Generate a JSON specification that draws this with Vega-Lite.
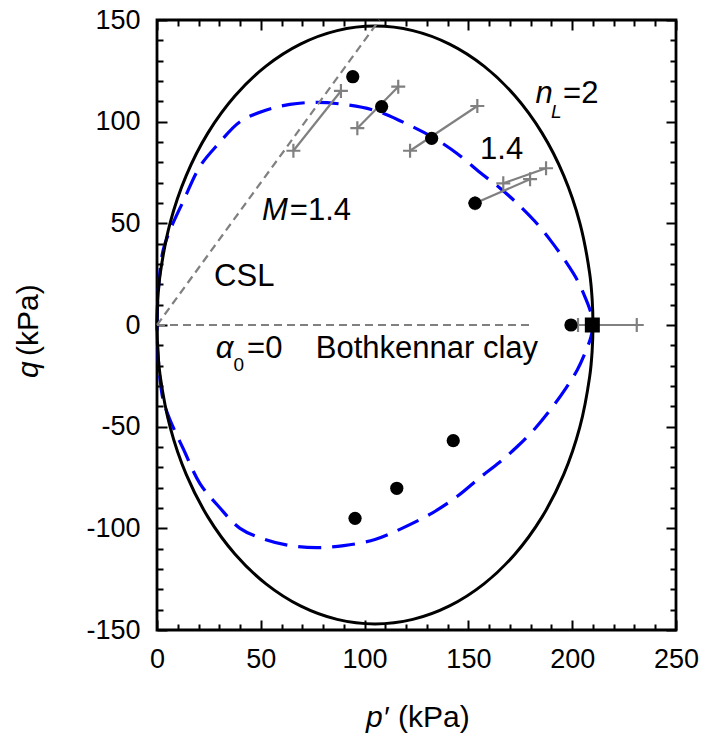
{
  "$schema": "https://vega.github.io/schema/vega-lite/v6.json",
  "width": 519,
  "height": 610,
  "autosize": {"type": "none"},
  "padding": {"left": 157, "top": 20, "right": 30, "bottom": 114},
  "background": "white",
  "config": {
    "font": "Liberation Sans",
    "view": {"stroke": "black", "strokeWidth": 2.8},
    "axis": {"grid": false, "domain": false, "labelColor": "black", "tickColor": "black", "labelFont": "Liberation Sans", "labelFontSize": 27, "tickWidth": 2, "labelFlush": false, "labelOverlap": false}
  },
  "resolve": {"axis": {"x": "independent", "y": "independent"}},
  "datasets": {
    "surfaceN14": [
      {"i": 0, "p": 0, "q": 0}, {"i": 1, "p": 0.4, "q": 13}, {"i": 2, "p": 1.3, "q": 25}, {"i": 3, "p": 3, "q": 37},
      {"i": 4, "p": 6, "q": 46}, {"i": 5, "p": 12.7, "q": 61}, {"i": 6, "p": 20.7, "q": 78}, {"i": 7, "p": 29.5, "q": 89},
      {"i": 8, "p": 40, "q": 100}, {"i": 9, "p": 52, "q": 105.5}, {"i": 10, "p": 64, "q": 108.5}, {"i": 11, "p": 77, "q": 109.5},
      {"i": 12, "p": 90, "q": 108.5}, {"i": 13, "p": 105, "q": 105.5}, {"i": 14, "p": 118, "q": 100}, {"i": 15, "p": 132.5, "q": 92.5},
      {"i": 16, "p": 145, "q": 84}, {"i": 17, "p": 155.6, "q": 75}, {"i": 18, "p": 165, "q": 67.5}, {"i": 19, "p": 173.3, "q": 60},
      {"i": 20, "p": 182, "q": 51}, {"i": 21, "p": 190, "q": 41}, {"i": 22, "p": 197, "q": 31}, {"i": 23, "p": 202.5, "q": 22},
      {"i": 24, "p": 206.5, "q": 13}, {"i": 25, "p": 209, "q": 6}, {"i": 26, "p": 210, "q": 0},
      {"i": 27, "p": 209, "q": -6}, {"i": 28, "p": 206.5, "q": -13}, {"i": 29, "p": 202.5, "q": -22}, {"i": 30, "p": 197, "q": -31},
      {"i": 31, "p": 190, "q": -41}, {"i": 32, "p": 182, "q": -51}, {"i": 33, "p": 173.3, "q": -60}, {"i": 34, "p": 165, "q": -67.5},
      {"i": 35, "p": 155.6, "q": -75}, {"i": 36, "p": 145, "q": -84}, {"i": 37, "p": 132.5, "q": -92.5}, {"i": 38, "p": 118, "q": -100},
      {"i": 39, "p": 105, "q": -105.5}, {"i": 40, "p": 90, "q": -108.5}, {"i": 41, "p": 77, "q": -109.5}, {"i": 42, "p": 64, "q": -108.5},
      {"i": 43, "p": 52, "q": -105.5}, {"i": 44, "p": 40, "q": -100}, {"i": 45, "p": 29.5, "q": -89}, {"i": 46, "p": 20.7, "q": -78},
      {"i": 47, "p": 12.7, "q": -61}, {"i": 48, "p": 6, "q": -46}, {"i": 49, "p": 3, "q": -37}, {"i": 50, "p": 1.3, "q": -25},
      {"i": 51, "p": 0.4, "q": -13}, {"i": 52, "p": 0, "q": 0}
    ],
    "surfaceN2": [
      {"i": 0, "p": 0, "q": 0}, {"i": 1, "p": 0.4, "q": 12.81}, {"i": 2, "p": 1.6, "q": 25.52}, {"i": 3, "p": 6.33, "q": 50.27},
      {"i": 4, "p": 14.07, "q": 73.5}, {"i": 5, "p": 24.57, "q": 94.49}, {"i": 6, "p": 37.51, "q": 112.6}, {"i": 7, "p": 52.5, "q": 127.31},
      {"i": 8, "p": 69.09, "q": 138.14}, {"i": 9, "p": 86.77, "q": 144.77}, {"i": 10, "p": 105, "q": 147}, {"i": 11, "p": 123.23, "q": 144.77},
      {"i": 12, "p": 140.91, "q": 138.14}, {"i": 13, "p": 157.5, "q": 127.31}, {"i": 14, "p": 172.49, "q": 112.6}, {"i": 15, "p": 185.43, "q": 94.49},
      {"i": 16, "p": 195.93, "q": 73.5}, {"i": 17, "p": 203.67, "q": 50.27}, {"i": 18, "p": 208.4, "q": 25.52}, {"i": 19, "p": 209.6, "q": 12.81},
      {"i": 20, "p": 210, "q": 0},
      {"i": 21, "p": 209.6, "q": -12.81}, {"i": 22, "p": 208.4, "q": -25.52}, {"i": 23, "p": 203.67, "q": -50.27}, {"i": 24, "p": 195.93, "q": -73.5},
      {"i": 25, "p": 185.43, "q": -94.49}, {"i": 26, "p": 172.49, "q": -112.6}, {"i": 27, "p": 157.5, "q": -127.31}, {"i": 28, "p": 140.91, "q": -138.14},
      {"i": 29, "p": 123.23, "q": -144.77}, {"i": 30, "p": 105, "q": -147}, {"i": 31, "p": 86.77, "q": -144.77}, {"i": 32, "p": 69.09, "q": -138.14},
      {"i": 33, "p": 52.5, "q": -127.31}, {"i": 34, "p": 37.51, "q": -112.6}, {"i": 35, "p": 24.57, "q": -94.49}, {"i": 36, "p": 14.07, "q": -73.5},
      {"i": 37, "p": 6.33, "q": -50.27}, {"i": 38, "p": 1.6, "q": -25.52}, {"i": 39, "p": 0.4, "q": -12.81}, {"i": 40, "p": 0, "q": 0}
    ],
    "csl": [{"p": 0, "q": 0}, {"p": 107.14, "q": 150}],
    "isoLine": [{"p": 0, "q": 0}, {"p": 180.5, "q": 0}],
    "paths": [
      {"seg": "a", "p": 65.7, "q": 85.7}, {"seg": "a", "p": 88.6, "q": 115.1},
      {"seg": "b", "p": 96.5, "q": 96.8}, {"seg": "b", "p": 116.2, "q": 117.2},
      {"seg": "c", "p": 121.9, "q": 85.7}, {"seg": "c", "p": 154.3, "q": 107.7},
      {"seg": "d", "p": 153.2, "q": 59.9}, {"seg": "d", "p": 179.7, "q": 71.7},
      {"seg": "e", "p": 166.8, "q": 69.7}, {"seg": "e", "p": 187.4, "q": 77.1},
      {"seg": "f", "p": 202.8, "q": 0}, {"seg": "f", "p": 231.1, "q": 0}
    ],
    "tests": [
      {"p": 94.3, "q": 122.1}, {"p": 108.2, "q": 107.4}, {"p": 132.3, "q": 91.8}, {"p": 153.2, "q": 59.9},
      {"p": 199.4, "q": 0}, {"p": 95.4, "q": -95.1}, {"p": 115.5, "q": -80.3}, {"p": 142.7, "q": -56.9}
    ],
    "consolidation": [{"p": 209.7, "q": 0}]
  },
  "layer": [
    {
      "data": {"name": "surfaceN14"},
      "mark": {"type": "line", "stroke": "#0000ff", "strokeWidth": 3.2, "strokeDash": [23, 11], "interpolate": "catmull-rom"},
      "encoding": {
        "x": {"field": "p", "type": "quantitative", "scale": {"domain": [0, 250], "nice": false, "zero": false},
              "axis": {"orient": "bottom", "values": [0, 50, 100, 150, 200, 250], "ticks": false, "labelPadding": 16, "title": null}},
        "y": {"field": "q", "type": "quantitative", "scale": {"domain": [-150, 150], "nice": false, "zero": false},
              "axis": {"orient": "left", "values": [-150, -100, -50, 0, 50, 100, 150], "ticks": false, "labelPadding": 17, "labelExpr": "'' + datum.value", "title": null}},
        "order": {"field": "i"}
      }
    },
    {
      "data": {"name": "surfaceN2"},
      "mark": {"type": "line", "stroke": "black", "strokeWidth": 3, "interpolate": "catmull-rom"},
      "encoding": {
        "x": {"field": "p", "type": "quantitative", "axis": {"orient": "bottom", "values": [0, 50, 100, 150, 200, 250], "labels": false, "tickSize": -10, "title": null}},
        "y": {"field": "q", "type": "quantitative", "axis": {"orient": "left", "values": [-150, -100, -50, 0, 50, 100, 150], "labels": false, "tickSize": -10, "title": null}},
        "order": {"field": "i"}
      }
    },
    {
      "data": {"name": "csl"},
      "mark": {"type": "line", "stroke": "#808080", "strokeWidth": 2.2, "strokeDash": [8, 5]},
      "encoding": {
        "x": {"field": "p", "type": "quantitative", "axis": {"orient": "top", "values": [0, 50, 100, 150, 200, 250], "labels": false, "tickSize": -10, "title": null}},
        "y": {"field": "q", "type": "quantitative", "axis": {"orient": "right", "values": [-150, -100, -50, 0, 50, 100, 150], "labels": false, "tickSize": -10, "title": null}}
      }
    },
    {
      "data": {"name": "isoLine"},
      "mark": {"type": "line", "stroke": "#808080", "strokeWidth": 2.2, "strokeDash": [8, 5]},
      "encoding": {
        "x": {"field": "p", "type": "quantitative", "axis": {"orient": "bottom", "values": [10, 20, 30, 40, 60, 70, 80, 90, 110, 120, 130, 140, 160, 170, 180, 190, 210, 220, 230, 240], "labels": false, "tickSize": -6, "title": null}},
        "y": {"field": "q", "type": "quantitative", "axis": {"orient": "left", "values": [-140, -130, -120, -110, -90, -80, -70, -60, -40, -30, -20, -10, 10, 20, 30, 40, 60, 70, 80, 90, 110, 120, 130, 140], "labels": false, "tickSize": -6, "title": null}}
      }
    },
    {
      "data": {"name": "paths"},
      "mark": {"type": "line", "stroke": "#808080", "strokeWidth": 2.2},
      "encoding": {
        "x": {"field": "p", "type": "quantitative", "axis": {"orient": "top", "values": [10, 20, 30, 40, 60, 70, 80, 90, 110, 120, 130, 140, 160, 170, 180, 190, 210, 220, 230, 240], "labels": false, "tickSize": -6, "title": null}},
        "y": {"field": "q", "type": "quantitative", "axis": {"orient": "right", "values": [-140, -130, -120, -110, -90, -80, -70, -60, -40, -30, -20, -10, 10, 20, 30, 40, 60, 70, 80, 90, 110, 120, 130, 140], "labels": false, "tickSize": -6, "title": null}},
        "detail": {"field": "seg"}
      }
    },
    {
      "data": {"name": "paths"},
      "mark": {"type": "point", "shape": "M-1,0H1M0,-1V1", "filled": false, "stroke": "#808080", "strokeWidth": 2.2, "size": 196, "opacity": 1},
      "encoding": {
        "x": {"field": "p", "type": "quantitative", "axis": null},
        "y": {"field": "q", "type": "quantitative", "axis": null}
      }
    },
    {
      "data": {"name": "tests"},
      "mark": {"type": "point", "shape": "circle", "filled": true, "color": "black", "size": 175, "opacity": 1},
      "encoding": {
        "x": {"field": "p", "type": "quantitative", "axis": null},
        "y": {"field": "q", "type": "quantitative", "axis": null}
      }
    },
    {
      "data": {"name": "consolidation"},
      "mark": {"type": "point", "shape": "square", "filled": true, "color": "black", "size": 225, "opacity": 1},
      "encoding": {
        "x": {"field": "p", "type": "quantitative", "axis": null},
        "y": {"field": "q", "type": "quantitative", "axis": null}
      }
    },
    {
      "data": {"values": [{}]},
      "mark": {"type": "text", "text": "CSL", "fontSize": 31, "align": "left", "baseline": "alphabetic", "color": "black"},
      "encoding": {"x": {"datum": 27.5, "type": "quantitative", "axis": null}, "y": {"datum": 19.2, "type": "quantitative", "axis": null}}
    },
    {
      "data": {"values": [{}]},
      "mark": {"type": "text", "text": "M", "fontSize": 31, "fontStyle": "italic", "align": "left", "baseline": "alphabetic", "color": "black"},
      "encoding": {"x": {"datum": 50.6, "type": "quantitative", "axis": null}, "y": {"datum": 51.6, "type": "quantitative", "axis": null}}
    },
    {
      "data": {"values": [{}]},
      "mark": {"type": "text", "text": "=1.4", "fontSize": 31, "align": "left", "baseline": "alphabetic", "color": "black"},
      "encoding": {"x": {"datum": 64, "type": "quantitative", "axis": null}, "y": {"datum": 51.6, "type": "quantitative", "axis": null}}
    },
    {
      "data": {"values": [{}]},
      "mark": {"type": "text", "text": "α", "fontSize": 31, "fontStyle": "italic", "align": "left", "baseline": "alphabetic", "color": "black"},
      "encoding": {"x": {"datum": 28.3, "type": "quantitative", "axis": null}, "y": {"datum": -16.1, "type": "quantitative", "axis": null}}
    },
    {
      "data": {"values": [{}]},
      "mark": {"type": "text", "text": "0", "fontSize": 19, "align": "left", "baseline": "alphabetic", "color": "black"},
      "encoding": {"x": {"datum": 36.8, "type": "quantitative", "axis": null}, "y": {"datum": -22.8, "type": "quantitative", "axis": null}}
    },
    {
      "data": {"values": [{}]},
      "mark": {"type": "text", "text": "=0", "fontSize": 31, "align": "left", "baseline": "alphabetic", "color": "black"},
      "encoding": {"x": {"datum": 43.4, "type": "quantitative", "axis": null}, "y": {"datum": -16.1, "type": "quantitative", "axis": null}}
    },
    {
      "data": {"values": [{}]},
      "mark": {"type": "text", "text": "Bothkennar clay", "fontSize": 31, "align": "left", "baseline": "alphabetic", "color": "black"},
      "encoding": {"x": {"datum": 76.5, "type": "quantitative", "axis": null}, "y": {"datum": -16.1, "type": "quantitative", "axis": null}}
    },
    {
      "data": {"values": [{}]},
      "mark": {"type": "text", "text": "1.4", "fontSize": 31, "align": "left", "baseline": "alphabetic", "color": "black"},
      "encoding": {"x": {"datum": 155.6, "type": "quantitative", "axis": null}, "y": {"datum": 81.5, "type": "quantitative", "axis": null}}
    },
    {
      "data": {"values": [{}]},
      "mark": {"type": "text", "text": "n", "fontSize": 31, "fontStyle": "italic", "align": "left", "baseline": "alphabetic", "color": "black"},
      "encoding": {"x": {"datum": 182.3, "type": "quantitative", "axis": null}, "y": {"datum": 109, "type": "quantitative", "axis": null}}
    },
    {
      "data": {"values": [{}]},
      "mark": {"type": "text", "text": "L", "fontSize": 19, "fontStyle": "italic", "align": "left", "baseline": "alphabetic", "color": "black"},
      "encoding": {"x": {"datum": 189.8, "type": "quantitative", "axis": null}, "y": {"datum": 101.8, "type": "quantitative", "axis": null}}
    },
    {
      "data": {"values": [{}]},
      "mark": {"type": "text", "text": "=2", "fontSize": 31, "align": "left", "baseline": "alphabetic", "color": "black"},
      "encoding": {"x": {"datum": 195.6, "type": "quantitative", "axis": null}, "y": {"datum": 109, "type": "quantitative", "axis": null}}
    },
    {
      "data": {"values": [{}]},
      "mark": {"type": "text", "text": "p′", "fontSize": 30, "fontStyle": "italic", "align": "left", "baseline": "alphabetic", "color": "black"},
      "encoding": {"x": {"datum": 100.7, "type": "quantitative", "axis": null}, "y": {"datum": -197.7, "type": "quantitative", "axis": null}}
    },
    {
      "data": {"values": [{}]},
      "mark": {"type": "text", "text": "(kPa)", "fontSize": 30, "align": "left", "baseline": "alphabetic", "color": "black"},
      "encoding": {"x": {"datum": 116.1, "type": "quantitative", "axis": null}, "y": {"datum": -197.7, "type": "quantitative", "axis": null}}
    },
    {
      "data": {"values": [{}]},
      "mark": {"type": "text", "text": "q", "fontSize": 30, "fontStyle": "italic", "angle": 270, "align": "left", "baseline": "alphabetic", "color": "black"},
      "encoding": {"x": {"datum": -57.3, "type": "quantitative", "axis": null}, "y": {"datum": -26.1, "type": "quantitative", "axis": null}}
    },
    {
      "data": {"values": [{}]},
      "mark": {"type": "text", "text": "(kPa)", "fontSize": 30, "angle": 270, "align": "left", "baseline": "alphabetic", "color": "black"},
      "encoding": {"x": {"datum": -57.3, "type": "quantitative", "axis": null}, "y": {"datum": -15.2, "type": "quantitative", "axis": null}}
    }
  ]
}
